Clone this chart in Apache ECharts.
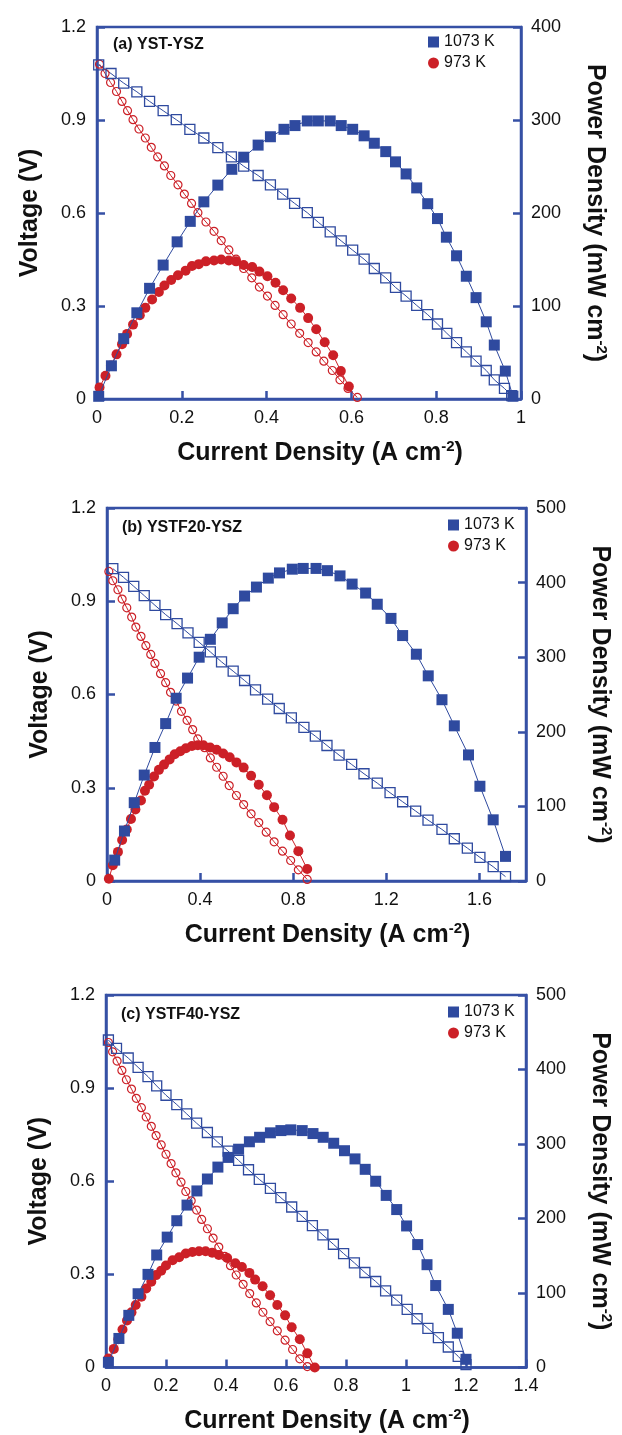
<!DOCTYPE html>
<html><head><meta charset="utf-8">
<script src="https://cdn.jsdelivr.net/npm/echarts@6/dist/echarts.min.js"></script>
<style>html,body{margin:0;padding:0;background:#fff}#c{width:622px;height:1435px}</style>
</head><body><div id="c"></div><script>
// ---------- data ----------
// Panel (a) YST-YSZ
const A_BLUE_V_I = [0.004,0.033,0.063,0.094,0.124,0.156,0.187,0.219,0.252,0.285,0.317,0.346,0.380,0.409,0.438,0.466,0.496,0.522,0.550,0.576,0.603,0.630,0.654,0.681,0.704,0.729,0.754,0.780,0.803,0.825,0.848,0.871,0.894,0.918,0.937,0.961,0.978];
const A_BLUE_V = [1.078,1.050,1.019,0.991,0.960,0.930,0.901,0.870,0.842,0.811,0.781,0.751,0.721,0.691,0.661,0.631,0.601,0.570,0.539,0.510,0.480,0.451,0.421,0.391,0.360,0.332,0.302,0.272,0.242,0.212,0.182,0.152,0.122,0.092,0.062,0.034,0.011];
const A_BLUE_P_I = [0.004,0.034,0.063,0.094,0.124,0.156,0.189,0.220,0.252,0.285,0.318,0.346,0.380,0.409,0.441,0.467,0.496,0.522,0.550,0.576,0.603,0.630,0.654,0.681,0.704,0.729,0.754,0.780,0.803,0.824,0.848,0.871,0.894,0.918,0.937,0.963,0.981];
const A_BLUE_P = [2.9,35.7,64.9,92.7,119,144,169,191,212,230,247,260,273,282,290,294,299,299,299,294,290,283,275,266,255,242,227,210,194,174,154,132,109,83,58,30,3];
const A_RED_V_I = [0.006,0.019,0.032,0.046,0.059,0.072,0.085,0.099,0.114,0.128,0.143,0.159,0.174,0.191,0.206,0.223,0.238,0.257,0.276,0.293,0.311,0.328,0.346,0.365,0.383,0.402,0.420,0.439,0.458,0.478,0.498,0.517,0.535,0.555,0.573,0.592,0.614];
const A_RED_V = [1.080,1.050,1.021,0.992,0.960,0.930,0.901,0.871,0.842,0.812,0.781,0.752,0.721,0.691,0.661,0.631,0.601,0.571,0.541,0.511,0.481,0.451,0.421,0.391,0.361,0.332,0.302,0.272,0.242,0.212,0.182,0.152,0.122,0.092,0.062,0.034,0.005];
const A_RED_P_I = [0.006,0.020,0.033,0.046,0.059,0.071,0.085,0.101,0.114,0.130,0.146,0.159,0.175,0.191,0.209,0.224,0.240,0.257,0.276,0.293,0.311,0.328,0.346,0.366,0.383,0.402,0.421,0.439,0.458,0.479,0.498,0.517,0.537,0.557,0.575,0.594];
const A_RED_P = [12.5,25,36,48,59,70,80,90,98,107,115,122,128,133,138,143,145,148,149,150,149,148,144,142,137,132,125,117,108,98,87,75,61,47,30,13.5];

// Panel (b) YSTF20-YSZ
const B_BLUE_V_I = [0.025,0.071,0.115,0.160,0.206,0.252,0.301,0.348,0.396,0.444,0.492,0.542,0.591,0.638,0.690,0.740,0.792,0.846,0.895,0.945,0.997,1.051,1.104,1.161,1.216,1.270,1.326,1.379,1.439,1.492,1.548,1.602,1.659,1.712];
const B_BLUE_V = [1.005,0.977,0.948,0.918,0.887,0.857,0.828,0.798,0.768,0.737,0.705,0.675,0.645,0.615,0.585,0.555,0.525,0.494,0.466,0.436,0.405,0.375,0.345,0.315,0.284,0.255,0.225,0.196,0.166,0.136,0.106,0.076,0.046,0.014];
const B_BLUE_P_I = [0.033,0.075,0.117,0.160,0.206,0.252,0.297,0.346,0.396,0.444,0.495,0.542,0.591,0.642,0.693,0.741,0.796,0.843,0.898,0.947,1.001,1.053,1.111,1.161,1.220,1.270,1.329,1.380,1.439,1.492,1.553,1.602,1.659,1.712];
const B_BLUE_P = [28,67,105,142,179,211,245,272,300,324,346,365,382,394,406,413,418,419,419,416,409,398,386,371,352,329,304,275,243,208,169,127,82,33];
const B_RED_V_I = [0.008,0.025,0.047,0.065,0.085,0.106,0.124,0.146,0.167,0.188,0.206,0.230,0.252,0.273,0.297,0.320,0.344,0.368,0.390,0.419,0.444,0.471,0.499,0.525,0.556,0.587,0.619,0.652,0.684,0.718,0.754,0.789,0.822,0.860];
const B_RED_V = [0.996,0.966,0.937,0.907,0.879,0.849,0.817,0.787,0.757,0.729,0.700,0.667,0.638,0.607,0.579,0.546,0.517,0.487,0.457,0.429,0.396,0.366,0.337,0.307,0.275,0.246,0.216,0.188,0.157,0.126,0.096,0.066,0.036,0.005];
const B_RED_P_I = [0.008,0.025,0.047,0.065,0.085,0.103,0.122,0.146,0.163,0.181,0.202,0.223,0.245,0.269,0.291,0.315,0.339,0.365,0.390,0.414,0.443,0.471,0.499,0.527,0.556,0.587,0.619,0.652,0.687,0.718,0.754,0.786,0.822,0.860];
const B_RED_P = [3,21,39,55,69,83,96,108,121,129,140,149,156,163,170,174,178,181,182,182,179,176,171,166,159,152,141,129,115,99,82,61,40,16];

// Panel (c) YSTF40-YSZ
const C_BLUE_V_I = [0.008,0.035,0.074,0.107,0.140,0.169,0.200,0.236,0.269,0.302,0.338,0.371,0.407,0.442,0.475,0.511,0.548,0.583,0.619,0.654,0.688,0.723,0.758,0.792,0.828,0.863,0.899,0.932,0.969,1.004,1.037,1.073,1.108,1.141,1.174,1.200];
const C_BLUE_V = [1.055,1.028,0.997,0.967,0.937,0.907,0.877,0.847,0.817,0.787,0.757,0.727,0.697,0.667,0.637,0.606,0.577,0.547,0.517,0.487,0.457,0.427,0.397,0.367,0.337,0.306,0.277,0.247,0.217,0.187,0.157,0.126,0.096,0.066,0.036,0.009];
const C_BLUE_P_I = [0.008,0.043,0.076,0.107,0.140,0.169,0.204,0.236,0.270,0.303,0.338,0.373,0.407,0.442,0.478,0.512,0.548,0.583,0.616,0.654,0.690,0.724,0.759,0.795,0.830,0.864,0.899,0.934,0.969,1.002,1.039,1.070,1.099,1.141,1.171,1.200];
const C_BLUE_P = [7,39,70,99,125,151,175,197,218,237,253,269,282,293,303,309,315,318,319,318,314,309,301,291,280,266,250,231,212,190,165,138,110,78,46,11];
const C_RED_V_I = [0.008,0.022,0.037,0.053,0.068,0.085,0.101,0.118,0.134,0.151,0.167,0.184,0.200,0.217,0.233,0.250,0.266,0.284,0.302,0.319,0.338,0.357,0.376,0.396,0.415,0.434,0.457,0.479,0.501,0.523,0.547,0.571,0.597,0.622,0.646,0.671];
const C_RED_V = [1.047,1.017,0.987,0.957,0.927,0.897,0.867,0.837,0.807,0.777,0.747,0.717,0.687,0.657,0.627,0.597,0.567,0.537,0.507,0.477,0.447,0.417,0.388,0.358,0.328,0.298,0.268,0.238,0.208,0.178,0.148,0.118,0.088,0.058,0.028,0.003];
const C_RED_P_I = [0.008,0.026,0.041,0.055,0.070,0.085,0.099,0.118,0.134,0.151,0.167,0.184,0.200,0.222,0.244,0.266,0.288,0.310,0.332,0.354,0.376,0.404,0.431,0.453,0.478,0.497,0.522,0.547,0.571,0.597,0.619,0.646,0.671,0.696];
const C_RED_P = [12,25,38,51,63,74,84,95,106,115,124,130,137,144,148,153,155,156,156,154,151,147,140,135,127,118,109,97,84,70,54,38,19,0];

// axes / labels
const PANEL_TITLES = ['(a) YST-YSZ', '(b) YSTF20-YSZ', '(c) YSTF40-YSZ'];
const SERIES_NAMES = ['1073 K', '973 K'];
const X_MAX = [1, 1.8, 1.4];
const X_INTERVAL = [0.2, 0.4, 0.2];
const V_MAX = 1.2, V_INTERVAL = 0.3;
const P_MAX = [400, 500, 500];
const P_INTERVAL = 100;

// ---------- layout / style ----------
const BLUE = '#2f4a9f', RED = '#cc2027', AXIS = '#3650a5', TXT = '#111';
const FONT = '"Liberation Sans", Arial, Helvetica, sans-serif';
const GRIDS = [
  {left: 97, top: 27, width: 424, height: 372},
  {left: 107, top: 508, width: 424, height: 373},
  {left: 106, top: 995, width: 424, height: 374}
];
const LEG_POS = [{left: 428, top: 34}, {left: 448, top: 517}, {left: 448, top: 1004}];
const LABEL_POS = [[113, 45], [122, 528], [121, 1015]];

const PANELS = [
  {bv:[A_BLUE_V_I,A_BLUE_V], bp:[A_BLUE_P_I,A_BLUE_P], rv:[A_RED_V_I,A_RED_V], rp:[A_RED_P_I,A_RED_P]},
  {bv:[B_BLUE_V_I,B_BLUE_V], bp:[B_BLUE_P_I,B_BLUE_P], rv:[B_RED_V_I,B_RED_V], rp:[B_RED_P_I,B_RED_P]},
  {bv:[C_BLUE_V_I,C_BLUE_V], bp:[C_BLUE_P_I,C_BLUE_P], rv:[C_RED_V_I,C_RED_V], rp:[C_RED_P_I,C_RED_P]}
];

const zip = (xs, ys) => xs.map((x, i) => [x, ys[i]]);

const axisLine = {show: true, onZero: false, lineStyle: {color: AXIS, width: 2.5}};
const axisTick = {show: true, inside: true, length: 8, lineStyle: {color: AXIS, width: 2.5}};
const labelStyle = {fontSize: 18, color: TXT, fontFamily: FONT};
const titleRich = {
  t: {fontSize: 25, fontWeight: 'bold', color: TXT, fontFamily: FONT, lineHeight: 28},
  s: {fontSize: 15, fontWeight: 'bold', color: TXT, fontFamily: FONT, verticalAlign: 'top', lineHeight: 28}
};

const grid = [], xAxis = [], yAxis = [], series = [], legend = [], graphic = [];

GRIDS.forEach((g, k) => {
  grid.push(Object.assign({show: true, borderColor: AXIS, borderWidth: 2.5, backgroundColor: 'transparent'}, g));
  xAxis.push({
    type: 'value', gridIndex: k, min: 0, max: X_MAX[k], interval: X_INTERVAL[k],
    axisLine, axisTick, splitLine: {show: false},
    axisLabel: Object.assign({margin: 10, showMaxLabel: k !== 1}, labelStyle),
    name: '{t|Current Density (A cm}{s|-2}{t|)}', nameLocation: 'middle', nameGap: 40,
    nameTextStyle: {rich: titleRich, padding: [0, 0, 0, 22]}
  });
  yAxis.push({
    type: 'value', gridIndex: k, position: 'left', min: 0, max: V_MAX, interval: V_INTERVAL,
    axisLine, axisTick, splitLine: {show: false},
    axisLabel: Object.assign({margin: 11}, labelStyle),
    name: '{t|Voltage (V)}', nameLocation: 'middle', nameGap: 53, nameRotate: 90,
    nameTextStyle: {rich: titleRich}
  });
  yAxis.push({
    type: 'value', gridIndex: k, position: 'right', min: 0, max: P_MAX[k], interval: P_INTERVAL,
    axisLine, axisTick, splitLine: {show: false},
    axisLabel: Object.assign({margin: 10}, labelStyle),
    name: '{t|Power Density (mW cm}{s|-2}{t|)}', nameLocation: 'middle', nameGap: 60, nameRotate: -90,
    nameTextStyle: {rich: titleRich}
  });

  const p = PANELS[k];
  const common = {type: 'line', xAxisIndex: k, clip: false, emphasis: {disabled: true}, animation: false, z: 3};
  // voltage (open markers)
  series.push(Object.assign({}, common, {
    name: SERIES_NAMES[1] + ' V', yAxisIndex: 2 * k, data: zip(p.rv[0], p.rv[1]),
    symbol: 'circle', symbolSize: 8,
    itemStyle: {color: 'rgba(255,255,255,0)', borderColor: RED, borderWidth: 1.2},
    lineStyle: {color: RED, width: 1}
  }));
  series.push(Object.assign({}, common, {
    name: SERIES_NAMES[0] + ' V', yAxisIndex: 2 * k, data: zip(p.bv[0], p.bv[1]),
    symbol: 'rect', symbolSize: 10,
    itemStyle: {color: 'rgba(255,255,255,0)', borderColor: BLUE, borderWidth: 1.3},
    lineStyle: {color: BLUE, width: 1}
  }));
  // power (filled markers)
  series.push(Object.assign({}, common, {
    name: SERIES_NAMES[1], yAxisIndex: 2 * k + 1, data: zip(p.rp[0], p.rp[1]),
    symbol: 'circle', symbolSize: 10,
    itemStyle: {color: RED}, lineStyle: {color: RED, width: 1}, z: 4
  }));
  series.push(Object.assign({}, common, {
    name: SERIES_NAMES[0], yAxisIndex: 2 * k + 1, data: zip(p.bp[0], p.bp[1]),
    symbol: 'rect', symbolSize: 11,
    itemStyle: {color: BLUE}, lineStyle: {color: BLUE, width: 1}, z: 5
  }));

  legend.push({
    left: LEG_POS[k].left, top: LEG_POS[k].top, orient: 'vertical', padding: 0,
    itemWidth: 11, itemHeight: 11, itemGap: 5, selectedMode: false,
    textStyle: {fontSize: 16, color: TXT, fontFamily: FONT},
    data: [{name: SERIES_NAMES[0], icon: 'rect'}, {name: SERIES_NAMES[1], icon: 'circle'}]
  });

  graphic.push({
    type: 'text', x: LABEL_POS[k][0], y: LABEL_POS[k][1], z: 10,
    style: {text: PANEL_TITLES[k], font: 'bold 16px ' + FONT, fill: TXT, verticalAlign: 'middle', align: 'left'}
  });
});

const chart = echarts.init(document.getElementById('c'), null, {renderer: 'canvas'});
chart.setOption({animation: false, backgroundColor: '#fff', grid, xAxis, yAxis, series, legend, graphic});
</script></body></html>
